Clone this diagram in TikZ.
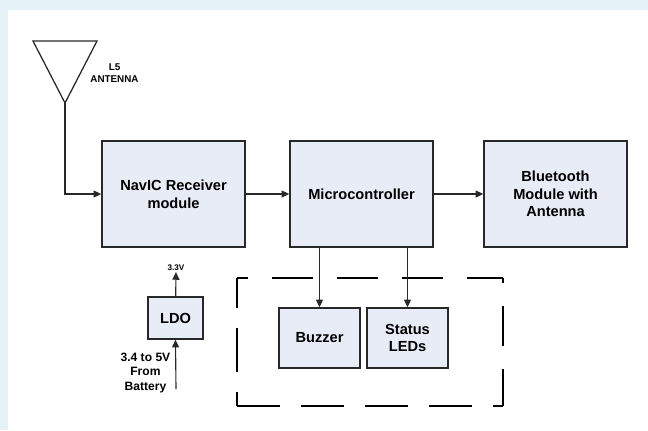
\documentclass[tikz,border=0pt]{standalone}
\usepackage{fontspec}
\setmainfont{Liberation Sans}
\usetikzlibrary{arrows.meta}
\definecolor{pagebg}{RGB}{229,243,249}
\definecolor{blockfill}{RGB}{232,236,247}
\definecolor{edge}{RGB}{40,40,40}
\tikzset{
    block/.style={draw=edge, fill=blockfill, line width=1pt, inner sep=0pt, align=center,
        font=\bfseries\fontsize{10.4}{12.5}\selectfont},
    arr/.style={draw=edge, line width=0.8pt, -{Triangle[length=5.5pt,width=5pt]}},
    smalllbl/.style={inner sep=1pt, align=center, font=\bfseries\fontsize{#1}{#1}\selectfont},
    groupbox/.style={draw=black, line width=1.4pt}
}
\begin{document}
\begin{tikzpicture}[x=0.025cm, y=-0.025cm]
    % page and white panel
    \fill[pagebg] (0,0) rectangle (648,430);
    \fill[white] (8,10) rectangle (648,430);
    \useasboundingbox (0,0) rectangle (648,430);
    % antenna
    \draw[edge, line width=0.9pt] (33,41) -- (97,41) -- (65,103) -- cycle;
    \coordinate (ant) at (65,103);
    \node[smalllbl=7, font=\bfseries\fontsize{7}{8.6}\selectfont] (antlbl) at (114.5,73) {L5\\ANTENNA};
    % main chain
    \node[block, minimum width=3.575cm, minimum height=2.65cm] (navic) at (173.5,194) {NavIC Receiver\\module};
    \node[block, minimum width=3.575cm, minimum height=2.65cm] (micro) at (361.5,194) {Microcontroller};
    \node[block, minimum width=3.575cm, minimum height=2.65cm] (bt) at (555.5,194) {Bluetooth\\Module with\\Antenna};
    \draw[arr] (ant) |- (navic.west);
    \draw[arr] (navic) -- (micro);
    \draw[arr] (micro) -- (bt);
    % outputs, dashed group (one side at a time so the corners stay closed)
    \coordinate (gtl) at (237,278);
    \coordinate (gtr) at (503,278);
    \coordinate (gbl) at (237,406);
    \coordinate (gbr) at (503,406);
    \draw[groupbox, dash pattern=on 1.025cm off 0.6cm, dash phase=0.75cm] (gtl) -- (gtr);
    \draw[groupbox, dash pattern=on 1.1cm off 0.5cm, dash phase=0.35cm] (gtl) -- (gbl);
    \draw[groupbox, dash pattern=on 1.075cm off 0.525cm] (gbl) -- (gbr);
    \draw[groupbox, dash pattern=on 1cm off 0.575cm, dash phase=0.875cm] (gtr) -- (gbr);
    \node[block, minimum width=2.025cm, minimum height=1.5cm] (buzzer) at (319.5,338) {Buzzer};
    \node[block, minimum width=2.025cm, minimum height=1.5cm] (leds) at (407.5,338) {Status\\LEDs};
    \draw[arr] (micro.south -| buzzer) -- (buzzer.north);
    \draw[arr] (micro.south -| leds) -- (leds.north);
    % power
    \node[block, minimum width=1.375cm, minimum height=1.05cm] (ldo) at (175.5,318) {LDO};
    \node[smalllbl=5.8, anchor=south] (v33) at (176,272) {3.3V};
    \draw[arr] (ldo) -- (v33);
    \coordinate (bat) at (176,389);
    \node[smalllbl=8.6, anchor=east, font=\bfseries\fontsize{8.6}{10.5}\selectfont] (batlbl) at (172,373) {3.4 to 5V\\From\\Battery};
    \draw[arr] (bat) -- (ldo.south);
\end{tikzpicture}
\end{document}
